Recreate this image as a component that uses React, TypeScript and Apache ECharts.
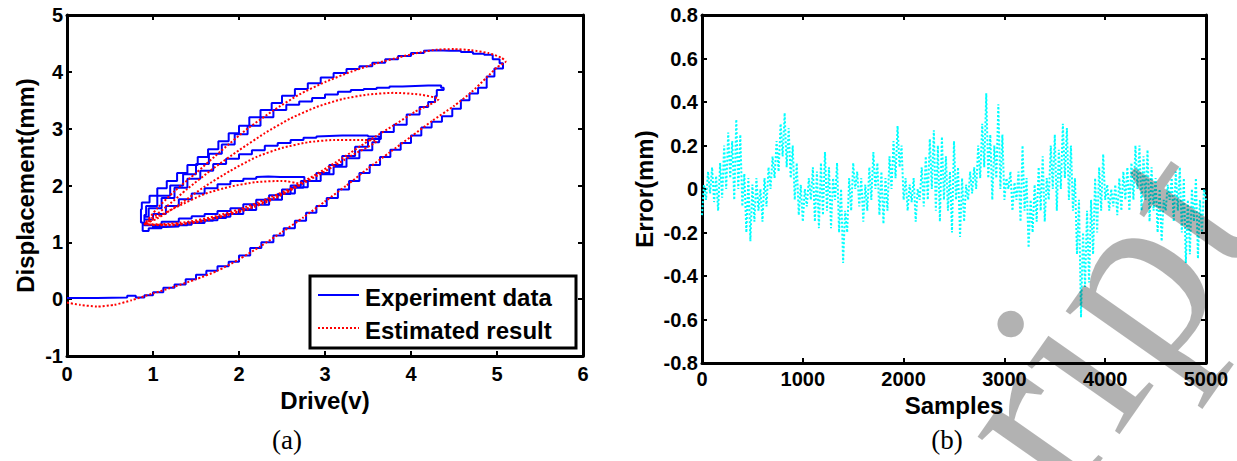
import React, { useEffect, useRef } from "react";
import * as echarts from "echarts";

// (a) Drive (V) vs Displacement (mm) — trajectory order
const experimentData: [number, number][] = [
  [0, 0.02], [0.35, 0.03], [0.7, 0.06], [0.8, 0.03], [0.9, 0.07], [1.0, 0.12], [1.12, 0.2], [1.25, 0.26], [1.38, 0.35],
  [1.5, 0.43], [1.62, 0.5], [1.75, 0.58], [1.88, 0.66], [2.0, 0.77], [2.13, 0.9], [2.26, 1.0], [2.4, 1.12], [2.52, 1.25],
  [2.65, 1.38], [2.78, 1.52], [2.9, 1.64], [3.02, 1.78], [3.15, 1.93], [3.28, 2.08], [3.4, 2.22], [3.52, 2.36], [3.64, 2.5],
  [3.76, 2.63], [3.88, 2.75], [4.0, 2.88], [4.12, 3.02], [4.24, 3.12], [4.36, 3.22], [4.48, 3.35], [4.58, 3.5], [4.68, 3.62],
  [4.78, 3.72], [4.88, 3.92], [4.97, 4.06], [5.07, 4.15],
  [5.03, 4.22], [4.95, 4.3], [4.85, 4.32], [4.72, 4.35], [4.58, 4.37], [4.45, 4.38], [4.3, 4.37], [4.15, 4.33], [4.0, 4.28],
  [3.85, 4.22], [3.7, 4.16], [3.55, 4.1], [3.4, 4.05], [3.25, 3.98], [3.1, 3.9], [2.95, 3.8], [2.8, 3.7], [2.65, 3.58],
  [2.5, 3.45], [2.38, 3.33], [2.25, 3.2], [2.12, 3.05], [2.0, 2.92], [1.88, 2.78], [1.76, 2.64], [1.64, 2.5], [1.52, 2.36],
  [1.4, 2.22], [1.28, 2.08], [1.16, 1.95], [1.05, 1.82], [0.96, 1.7], [0.87, 1.58], [0.86, 1.35], [0.88, 1.2],
  [0.95, 1.25], [1.1, 1.28], [1.25, 1.3], [1.4, 1.35], [1.55, 1.38], [1.7, 1.43], [1.85, 1.5], [2.0, 1.58], [2.15, 1.66],
  [2.3, 1.76], [2.45, 1.85], [2.6, 1.96], [2.75, 2.08], [2.9, 2.22], [3.05, 2.36], [3.2, 2.52], [3.35, 2.68], [3.5, 2.82],
  [3.65, 2.94], [3.8, 3.07], [3.95, 3.25], [4.1, 3.38], [4.2, 3.47], [4.28, 3.57], [4.3, 3.68], [4.38, 3.72], [4.35, 3.76],
  [4.2, 3.75], [4.05, 3.74], [3.9, 3.74], [3.75, 3.72], [3.6, 3.7], [3.45, 3.68], [3.3, 3.65], [3.15, 3.6], [3.0, 3.54],
  [2.85, 3.48], [2.7, 3.42], [2.55, 3.33], [2.4, 3.2], [2.25, 3.05], [2.1, 2.9], [1.95, 2.72], [1.8, 2.56], [1.65, 2.38],
  [1.5, 2.2], [1.35, 2.0], [1.2, 1.82], [1.05, 1.64], [0.92, 1.48], [0.9, 1.3],
  [1.0, 1.27], [1.15, 1.28], [1.3, 1.31], [1.45, 1.34], [1.6, 1.39], [1.75, 1.45], [1.9, 1.5], [2.05, 1.57], [2.2, 1.66],
  [2.35, 1.75], [2.5, 1.86], [2.65, 1.97], [2.8, 2.08], [2.95, 2.2], [3.1, 2.33], [3.25, 2.48], [3.4, 2.62], [3.55, 2.76],
  [3.63, 2.86],
  [3.5, 2.88], [3.35, 2.88], [3.2, 2.87], [3.05, 2.86], [2.9, 2.84], [2.75, 2.8], [2.6, 2.75], [2.45, 2.7], [2.3, 2.62],
  [2.15, 2.55], [2.0, 2.47], [1.85, 2.38], [1.7, 2.26], [1.55, 2.12], [1.4, 1.96], [1.25, 1.78], [1.1, 1.6], [0.95, 1.45],
  [0.9, 1.3],
  [0.95, 1.3], [1.1, 1.36], [1.3, 1.42], [1.45, 1.46], [1.6, 1.5], [1.75, 1.55], [1.9, 1.6], [2.05, 1.67], [2.2, 1.75],
  [2.35, 1.83], [2.5, 1.93], [2.6, 2.0], [2.72, 2.08], [2.76, 2.15],
  [2.62, 2.15], [2.48, 2.16], [2.34, 2.15], [2.2, 2.12], [2.05, 2.08], [1.9, 2.02], [1.75, 1.95], [1.6, 1.86], [1.45, 1.76],
  [1.3, 1.64], [1.15, 1.5], [1.0, 1.4], [0.9, 1.32],
];

const estimatedData: [number, number][] = [
  [0, -0.06], [0.15, -0.1], [0.35, -0.13], [0.55, -0.1], [0.75, -0.02], [1.0, 0.1], [1.25, 0.22], [1.5, 0.35], [1.75, 0.5],
  [2.0, 0.7], [2.25, 0.93], [2.5, 1.18], [2.75, 1.44], [3.0, 1.72], [3.25, 2.0], [3.5, 2.3], [3.75, 2.58], [4.0, 2.86],
  [4.25, 3.14], [4.5, 3.4], [4.7, 3.64], [4.88, 3.9], [5.0, 4.08], [5.1, 4.18],
  [5.05, 4.25], [4.9, 4.33], [4.7, 4.38], [4.5, 4.4], [4.3, 4.39], [4.1, 4.34], [3.9, 4.27], [3.6, 4.15], [3.3, 4.0],
  [3.0, 3.82], [2.7, 3.6], [2.4, 3.32], [2.1, 3.0], [1.8, 2.62], [1.5, 2.22], [1.25, 1.9], [1.05, 1.6], [0.9, 1.32],
  [1.1, 1.32], [1.4, 1.36], [1.7, 1.45], [2.0, 1.58], [2.3, 1.75], [2.6, 1.95], [2.9, 2.2], [3.2, 2.48], [3.5, 2.78],
  [3.8, 3.06], [4.05, 3.3], [4.32, 3.52],
  [4.1, 3.6], [3.8, 3.63], [3.5, 3.6], [3.2, 3.52], [2.9, 3.38], [2.6, 3.18], [2.3, 2.92], [2.0, 2.62], [1.7, 2.3],
  [1.4, 1.94], [1.15, 1.62], [0.9, 1.32],
  [1.2, 1.31], [1.5, 1.36], [1.8, 1.46], [2.1, 1.6], [2.4, 1.78], [2.7, 2.0], [3.0, 2.25], [3.3, 2.52], [3.6, 2.78],
  [3.4, 2.8], [3.1, 2.8], [2.8, 2.76], [2.5, 2.66], [2.2, 2.5], [1.9, 2.26], [1.6, 1.98], [1.3, 1.66], [1.05, 1.42], [0.9, 1.32],
  [1.2, 1.3], [1.5, 1.35], [1.8, 1.45], [2.1, 1.58], [2.4, 1.76], [2.7, 2.02],
  [2.5, 2.08], [2.2, 2.06], [1.9, 1.98], [1.6, 1.85], [1.3, 1.64], [1.05, 1.45], [0.9, 1.32],
];

// (b) Error (mm) every 20 samples, 0..5000
const sampleStep = 20;
const errorValues: number[] = [
  -0.12, 0.02, -0.05, 0.08, -0.02, 0.1, -0.06, 0.06, -0.1, 0.12,
  -0.04, 0.2, 0.0, 0.26, 0.05, 0.22, -0.05, 0.32, 0.0, 0.25,
  -0.08, 0.07, -0.2, 0.05, -0.24, 0.02, -0.15, 0.05, -0.1, 0.0,
  -0.15, 0.05, -0.08, 0.1, 0.0, 0.15, 0.05, 0.22, 0.08, 0.3,
  0.15, 0.35, 0.1, 0.28, 0.05, 0.2, -0.05, 0.12, -0.12, 0.02,
  -0.15, 0.0, -0.08, 0.05, -0.05, 0.1, -0.15, 0.08, -0.18, 0.12,
  -0.12, 0.17, -0.1, 0.1, -0.18, 0.05, -0.05, 0.12, -0.2, 0.0,
  -0.34, -0.1, -0.2, 0.05, -0.1, 0.12, 0.0, 0.08, -0.08, 0.05,
  -0.15, 0.02, -0.1, 0.1, -0.05, 0.17, 0.0, 0.12, -0.12, 0.08,
  -0.16, 0.05, -0.1, 0.15, 0.0, 0.22, 0.05, 0.29, 0.1, 0.2,
  -0.05, 0.05, -0.1, 0.02, -0.06, 0.05, -0.15, 0.0, -0.05, 0.1,
  -0.08, 0.15, -0.05, 0.23, 0.0, 0.27, -0.1, 0.2, -0.15, 0.24,
  -0.05, 0.15, -0.1, 0.08, -0.2, 0.22, -0.05, 0.1, -0.22, 0.05,
  -0.15, 0.02, -0.05, 0.08, -0.02, 0.1, 0.0, 0.2, 0.05, 0.3,
  0.1, 0.44, 0.05, 0.25, -0.05, 0.2, 0.05, 0.39, 0.0, 0.25,
  -0.05, 0.05, 0.0, 0.08, -0.1, 0.03, -0.05, 0.08, -0.15, 0.2,
  -0.1, 0.05, -0.27, -0.05, -0.2, 0.02, -0.15, 0.1, -0.1, 0.15,
  -0.15, 0.05, -0.05, 0.2, 0.0, 0.25, -0.1, 0.18, 0.0, 0.3,
  0.05, 0.28, -0.05, 0.2, -0.1, 0.05, -0.3, -0.05, -0.59, -0.2,
  -0.45, -0.1, -0.43, -0.05, -0.3, 0.05, -0.2, 0.1, -0.1, 0.16,
  -0.05, 0.02, -0.1, 0.0, -0.08, 0.02, -0.12, 0.05, -0.1, 0.08,
  -0.05, 0.1, -0.1, 0.12, -0.05, 0.2, 0.0, 0.2, -0.1, 0.15,
  -0.05, 0.18, -0.15, 0.1, -0.1, 0.05, -0.2, 0.0, -0.24, -0.05,
  -0.1, 0.02, -0.05, 0.05, -0.15, 0.08, -0.1, 0.1, -0.2, 0.05,
  -0.34, -0.05, -0.3, 0.0, -0.15, 0.05, -0.32, -0.05, -0.2, 0.0,
  -0.05,
];

const legendLabels = ["Experiment data", "Estimated result"];
const panelLabels = ["(a)", "(b)"];
const watermarkText = "ript";

const SANS = 'Arial, "Liberation Sans", Helvetica, sans-serif';
const SERIF = '"Times New Roman", "Liberation Serif", serif';

export default function App() {
  const ref = useRef<HTMLDivElement>(null);
  useEffect(() => {
    if (!ref.current) return;
    const chart = echarts.init(ref.current, undefined, { renderer: "svg" });
    const tickLabel = { fontFamily: SANS, fontWeight: "bold" as const, fontSize: 20, color: "#000" };
    const nameStyle = { fontFamily: SANS, fontWeight: "bold" as const, fontSize: 24, color: "#000" };
    const line = { show: true, onZero: false, lineStyle: { color: "#000", width: 3 } };
    const tick = { show: true, inside: true, length: 5, lineStyle: { color: "#000", width: 2 } };
    const errorData = errorValues.map((v, i) => [i * sampleStep, v]);
    const plain = (v: number) => String(+v.toFixed(1));

    chart.setOption({
      animation: false,
      backgroundColor: "#fff",
      grid: [
        { left: 67, top: 15, width: 516, height: 341 },
        { left: 702, top: 15, width: 504, height: 348 },
      ],
      xAxis: [
        {
          gridIndex: 0, type: "value", min: 0, max: 6, interval: 1, position: "bottom",
          name: "Drive(v)", nameLocation: "middle", nameGap: 31, nameTextStyle: nameStyle,
          axisLine: line, axisTick: tick, axisLabel: { ...tickLabel, margin: 8, formatter: plain }, splitLine: { show: false },
        },
        {
          gridIndex: 0, type: "value", min: 0, max: 6, interval: 1, position: "top",
          axisLine: line, axisTick: tick, axisLabel: { show: false }, splitLine: { show: false },
        },
        {
          gridIndex: 1, type: "value", min: 0, max: 5000, interval: 1000, position: "bottom",
          name: "Samples", nameLocation: "middle", nameGap: 25, nameTextStyle: nameStyle,
          axisLine: line, axisTick: tick, axisLabel: { ...tickLabel, margin: 6, formatter: plain }, splitLine: { show: false },
        },
        {
          gridIndex: 1, type: "value", min: 0, max: 5000, interval: 1000, position: "top",
          axisLine: line, axisTick: tick, axisLabel: { show: false }, splitLine: { show: false },
        },
      ],
      yAxis: [
        {
          gridIndex: 0, type: "value", min: -1, max: 5, interval: 1, position: "left",
          name: "Displacement(mm)", nameLocation: "middle", nameGap: 30, nameTextStyle: nameStyle,
          axisLine: line, axisTick: tick, axisLabel: { ...tickLabel, margin: 4, formatter: plain }, splitLine: { show: false },
        },
        {
          gridIndex: 0, type: "value", min: -1, max: 5, interval: 1, position: "right",
          axisLine: line, axisTick: tick, axisLabel: { show: false }, splitLine: { show: false },
        },
        {
          gridIndex: 1, type: "value", min: -0.8, max: 0.8, interval: 0.2, position: "left",
          name: "Error(mm)", nameLocation: "middle", nameGap: 46, nameTextStyle: nameStyle,
          axisLine: line, axisTick: tick,
          axisLabel: { ...tickLabel, margin: 4, formatter: plain },
          splitLine: { show: false },
        },
        {
          gridIndex: 1, type: "value", min: -0.8, max: 0.8, interval: 0.2, position: "right",
          axisLine: line, axisTick: tick, axisLabel: { show: false }, splitLine: { show: false },
        },
      ],
      series: [
        {
          name: legendLabels[0], type: "line", xAxisIndex: 0, yAxisIndex: 0, data: experimentData,
          step: "end", showSymbol: false, lineStyle: { color: "#0000ff", width: 2 }, z: 2,
        },
        {
          name: legendLabels[1], type: "line", xAxisIndex: 0, yAxisIndex: 0, data: estimatedData,
          smooth: 0.2, showSymbol: false, lineStyle: { color: "#ff0000", width: 2, type: [2, 2] }, z: 3,
        },
        {
          name: "Error", type: "line", xAxisIndex: 2, yAxisIndex: 2, data: errorData,
          showSymbol: false, lineStyle: { color: "#00ffff", width: 2, type: [2, 2] }, z: 2,
        },
      ],
      graphic: [
        { type: "rect", z: 100, shape: { x: 310, y: 276, width: 266, height: 72 }, style: { fill: "#fff", stroke: "#000", lineWidth: 3 } },
        { type: "line", z: 101, shape: { x1: 318, y1: 295, x2: 359, y2: 295 }, style: { stroke: "#0000ff", lineWidth: 2 } },
        { type: "line", z: 101, shape: { x1: 318, y1: 328, x2: 359, y2: 328 }, style: { stroke: "#ff0000", lineWidth: 2, lineDash: [2, 2] } },
        { type: "text", z: 101, x: 365, y: 297, style: { text: legendLabels[0], fontFamily: SANS, fontWeight: "bold", fontSize: 24, fill: "#000", verticalAlign: "middle" } },
        { type: "text", z: 101, x: 365, y: 330, style: { text: legendLabels[1], fontFamily: SANS, fontWeight: "bold", fontSize: 24, fill: "#000", verticalAlign: "middle" } },
        { type: "text", z: 101, x: 287, y: 440, style: { text: panelLabels[0], fontFamily: SERIF, fontSize: 27, fill: "#000", align: "center", verticalAlign: "middle" } },
        { type: "text", z: 101, x: 947, y: 440, style: { text: panelLabels[1], fontFamily: SERIF, fontSize: 27, fill: "#000", align: "center", verticalAlign: "middle" } },
        {
          type: "text", z: 200, x: 1102, y: 530, rotation: (55 * Math.PI) / 180,
          style: { text: watermarkText, fontFamily: SERIF, fontSize: 250, fill: "rgba(0,0,0,0.3)", align: "left", verticalAlign: "bottom" },
        },
      ],
    });
    return () => chart.dispose();
  }, []);
  return (
    <div
      ref={ref}
      style={{ position: "fixed", left: 0, top: 0, width: 1237, height: 461, background: "#fff" }}
    />
  );
}
